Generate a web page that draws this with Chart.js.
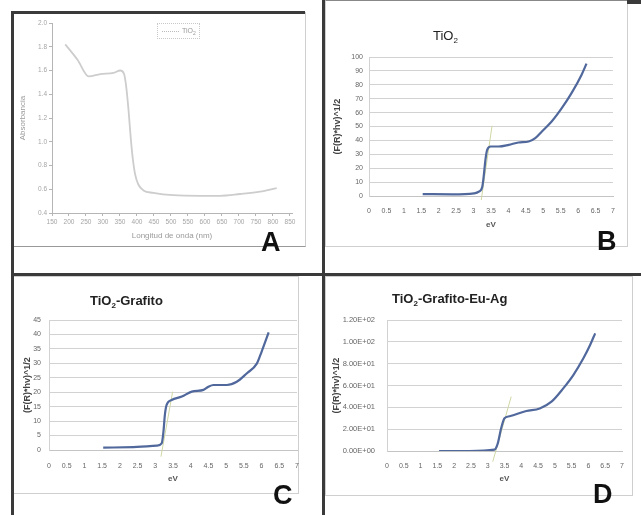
<!DOCTYPE html>
<html>
<head>
<meta charset="utf-8">
<script src="https://cdn.jsdelivr.net/npm/chart.js@4/dist/chart.umd.min.js"></script>
<style>
  html, body { margin: 0; padding: 0; background: #fff; }
  body { width: 641px; height: 515px; position: relative; overflow: hidden; font-family: 'Liberation Sans', Arial, sans-serif; }
  .dark { position: absolute; background: #3a3a3a; }
  .box { position: absolute; border: 1px solid #cfcfcf; box-sizing: border-box; }
  canvas { position: absolute; }
  .letter { position: absolute; font-weight: bold; font-size: 27px; line-height: 27px; color: #111; }
  .title { position: absolute; font-size: 13px; line-height: 14px; color: #222; white-space: nowrap; }
  .title sub { font-size: 8px; line-height: 0; vertical-align: -3px; }
  .legend { position: absolute; left: 157px; top: 23px; width: 43px; height: 16px; border: 1px dotted #c8c8c8; box-sizing: border-box; }
  .legend i { position: absolute; left: 4px; top: 7px; width: 17px; border-top: 1px dotted #bbb; }
  .legend span { position: absolute; left: 24px; top: 3px; font-size: 7px; line-height: 8px; color: #999; }
  .legend span sub { font-size: 5px; line-height: 0; }
</style>
</head>
<body>
<!-- frames -->
<div class="box" style="left:12px;top:12px;width:294px;height:235px;border-bottom-color:#999;"></div>
<div class="box" style="left:325px;top:0;width:303px;height:247px;border-top-color:#888;"></div>
<div class="box" style="left:13px;top:276px;width:286px;height:218px;"></div>
<div class="box" style="left:325px;top:276px;width:308px;height:220px;"></div>
<div class="dark" style="left:11px;top:11px;width:3px;height:504px;"></div>
<div class="dark" style="left:11px;top:11px;width:294px;height:3px;"></div>
<div class="dark" style="left:322px;top:0;width:3px;height:515px;"></div>
<div class="dark" style="left:11px;top:273px;width:630px;height:3px;"></div>
<div class="dark" style="left:627px;top:0;width:14px;height:4px;"></div>

<canvas id="chartA" width="290" height="230" style="left:14px;top:14px;"></canvas>
<canvas id="chartB" width="300" height="245" style="left:326px;top:1px;"></canvas>
<canvas id="chartC" width="300" height="216" style="left:14px;top:277px;"></canvas>
<canvas id="chartD" width="310" height="216" style="left:326px;top:277px;"></canvas>

<div class="legend"><i></i><span>TiO<sub>2</sub></span></div>
<div class="title" style="left:433px;top:29px;">TiO<sub>2</sub></div>
<div class="title" style="left:90px;top:294px;font-weight:bold;">TiO<sub>2</sub>-Grafito</div>
<div class="title" style="left:392px;top:292px;font-weight:bold;">TiO<sub>2</sub>-Grafito-Eu-Ag</div>
<div class="letter" style="left:261px;top:229px;">A</div>
<div class="letter" style="left:597px;top:228px;">B</div>
<div class="letter" style="left:273px;top:482px;">C</div>
<div class="letter" style="left:593px;top:481px;">D</div>

<script>
// A: absorbance spectrum
const waveA = [189, 225, 258, 292, 331, 351, 362, 368, 375, 382, 388, 395, 404, 419, 448, 507, 586, 644, 703, 762, 811];
const absA = [1.82, 1.69, 1.55, 1.57, 1.58, 1.60, 1.57, 1.47, 1.27, 1.02, 0.85, 0.72, 0.64, 0.59, 0.57, 0.55, 0.545, 0.545, 0.56, 0.58, 0.61];
const waveTicks = [150, 200, 250, 300, 350, 400, 450, 500, 550, 600, 650, 700, 750, 800, 850];
const absTicks = [0.4, 0.6, 0.8, 1.0, 1.2, 1.4, 1.6, 1.8, 2.0];

// B, C, D: Tauc plots
const evTicks = [0, 0.5, 1, 1.5, 2, 2.5, 3, 3.5, 4, 4.5, 5, 5.5, 6, 6.5, 7];

const evB = [1.54, 2.39, 3.01, 3.15, 3.25, 3.30, 3.34, 3.39, 3.49, 3.72, 4.01, 4.29, 4.58, 4.77, 4.96, 5.24, 5.53, 5.81, 6.10, 6.24];
const valB = [1.4, 1.2, 1.9, 3.1, 6.7, 16.3, 26, 33.2, 35.6, 35.6, 36.8, 38.5, 39.2, 41.6, 46.4, 53.6, 63.2, 74, 87.3, 95.2];
const tanEvB = [3.22, 3.53];
const tanValB = [-2.9, 50.5];
const yTicksB = [0, 10, 20, 30, 40, 50, 60, 70, 80, 90, 100];

const evC = [1.53, 2.38, 3.04, 3.18, 3.23, 3.27, 3.32, 3.46, 3.75, 4.03, 4.36, 4.5, 4.64, 5.02, 5.3, 5.58, 5.87, 6.0, 6.2];
const valC = [0.8, 1.0, 1.5, 2.3, 6.3, 12.1, 15.6, 17.3, 18.5, 20.2, 20.8, 21.9, 22.5, 22.5, 23.6, 26.5, 30, 34, 40.7];
const tanEvC = [3.16, 3.49];
const tanValC = [-2.3, 20.2];
const yTicksC = [0, 5, 10, 15, 20, 25, 30, 35, 40, 45];

const evD = [1.55, 2.45, 3.2, 3.3, 3.4, 3.5, 3.65, 4.15, 4.55, 4.9, 5.25, 5.55, 5.85, 6.05, 6.2];
const valD = [0, 0, 1.2, 7, 20.8, 30, 31.8, 36.6, 39, 45.2, 57.4, 69.6, 84.9, 97.1, 107.8];
const tanEvD = [3.15, 3.7];
const tanValD = [-9.8, 49.8];
const yTicksD = [0, 20, 40, 60, 80, 100, 120];

const FONT = "'Liberation Sans', Arial, sans-serif";
Chart.defaults.font.family = FONT;

const pts = (xs, ys) => xs.map((x, i) => ({ x: x, y: ys[i] }));
const fixTicks = arr => scale => { scale.ticks = arr.map(v => ({ value: v })); };

const sci = v => {
  if (v === 0) return '0.00E+00';
  const e = Math.floor(Math.log10(v));
  return (v / Math.pow(10, e)).toFixed(2) + 'E+' + String(e).padStart(2, '0');
};

// panel A, origin-like axes
new Chart(document.getElementById('chartA'), {
  type: 'line',
  data: {
    datasets: [{
      data: pts(waveA, absA),
      borderColor: '#cdcdcd',
      borderWidth: 1.8,
      pointRadius: 0,
      cubicInterpolationMode: 'monotone'
    }]
  },
  options: {
    responsive: false,
    animation: false,
    events: [],
    layout: { padding: { left: 0, top: 9, right: 12, bottom: 0 } },
    plugins: { legend: { display: false }, tooltip: { enabled: false } },
    scales: {
      x: {
        type: 'linear', min: 150, max: 856,
        afterBuildTicks: fixTicks(waveTicks),
        afterFit: s => { s.height = 31; },
        grid: { drawOnChartArea: false, tickLength: 3, color: '#b5b5b5' },
        border: { color: '#b5b5b5' },
        ticks: { autoSkip: false, maxRotation: 0, padding: 2, color: '#a5a5a5', font: { size: 6.5 } },
        title: { display: true, text: 'Longitud de onda (nm)', color: '#9a9a9a', font: { size: 8 }, padding: { top: 0, bottom: 3 } }
      },
      y: {
        min: 0.4, max: 2.0,
        afterBuildTicks: fixTicks(absTicks),
        afterFit: s => { s.width = 38; },
        grid: { drawOnChartArea: false, tickLength: 3, color: '#b5b5b5' },
        border: { color: '#b5b5b5' },
        ticks: { padding: 2, color: '#a5a5a5', font: { size: 6.5 }, callback: v => v.toFixed(1) },
        title: { display: true, text: 'Absorbancia', color: '#9a9a9a', font: { size: 8 }, padding: { top: 3.5, bottom: 0 } }
      }
    }
  }
});

// panels B-D, excel-like
function taucChart(id, main, tangent, yTicks, p) {
  return new Chart(document.getElementById(id), {
    type: 'line',
    data: {
      datasets: [
        { data: main, borderColor: '#50689c', borderWidth: 2.2, pointRadius: 0, cubicInterpolationMode: 'monotone' },
        { data: tangent, borderColor: '#cfd8a4', borderWidth: 1, pointRadius: 0, clip: false }
      ]
    },
    options: {
      responsive: false,
      animation: false,
      events: [],
      layout: { padding: { left: 0, top: p.top, right: p.right, bottom: 0 } },
      plugins: { legend: { display: false }, tooltip: { enabled: false } },
      scales: {
        x: {
          type: 'linear', min: 0, max: 7,
          afterBuildTicks: fixTicks(evTicks),
          afterFit: s => { s.height = p.xh; },
          grid: { display: false, drawTicks: false },
          border: { display: true, color: '#c4c4c4' },
          ticks: { autoSkip: false, maxRotation: 0, padding: p.xpad, color: '#666', font: { size: 7 }, callback: v => String(v) },
          title: { display: true, text: 'eV', color: '#555', font: { size: 8, weight: 'bold' }, padding: { top: 0, bottom: p.xtb } }
        },
        y: {
          min: 0, max: yTicks[yTicks.length - 1],
          afterBuildTicks: fixTicks(yTicks),
          afterFit: s => { s.width = p.yw; },
          grid: { color: '#d2d2d2', drawTicks: false },
          border: { display: true, color: '#d2d2d2' },
          ticks: { padding: p.ypad, color: '#666', font: { size: p.yfs || 7 }, callback: p.fmt || (v => String(v)) },
          title: { display: true, text: '(F(R)*hv)^1/2', color: '#444', font: { size: 9, weight: 'bold' }, padding: { top: p.ytp, bottom: 0 } }
        }
      }
    }
  });
}

taucChart('chartB', pts(evB, valB), pts(tanEvB, tanValB), yTicksB,
  { top: 56, right: 13, xh: 50, xpad: 11, xtb: 16, yw: 43, ypad: 6, ytp: 6 });
taucChart('chartC', pts(evC, valC), pts(tanEvC, tanValC), yTicksC,
  { top: 43, right: 17, xh: 43, xpad: 11.5, xtb: 9, yw: 35, ypad: 8, ytp: 8 });
taucChart('chartD', pts(evD, valD), pts(tanEvD, tanValD), yTicksD,
  { top: 43, right: 14, xh: 42, xpad: 11, xtb: 9, yw: 61, ypad: 12, ytp: 5.5, yfs: 7.5, fmt: sci });
</script>
</body>
</html>
